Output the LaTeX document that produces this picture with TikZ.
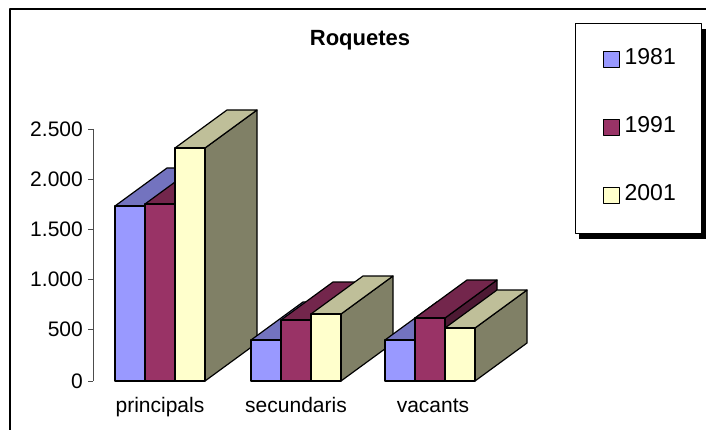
\documentclass[tikz,border=0pt]{standalone}
\usepackage{fontspec}
\setmainfont{Liberation Sans}
\usepackage{xcolor}
\usetikzlibrary{positioning}

\definecolor{c81}{HTML}{9999FF}
\definecolor{c81top}{HTML}{7373BF}
\definecolor{c81side}{HTML}{4D4D80}
\definecolor{c91}{HTML}{993366}
\definecolor{c91top}{HTML}{73264C}
\definecolor{c91side}{HTML}{4D1933}
\definecolor{c01}{HTML}{FFFFCC}
\definecolor{c01top}{HTML}{BFBF99}
\definecolor{c01side}{HTML}{808066}

% one 3d column: #1 left edge, #2 top edge, #3 colour
\newcommand{\colbar}[3]{%
	\filldraw[edge, fill=#3side] (#1+30,381) -- (#1+30,#2) -- ++(52,-38) -- (#1+82,343) -- cycle;
	\filldraw[edge, fill=#3top] (#1,#2) -- ++(52,-38) -- ++(30,0) -- (#1+30,#2) -- cycle;
	\filldraw[edge, fill=#3] (#1,381) rectangle (#1+30,#2);
}

\begin{document}
\begin{tikzpicture}[x=1pt, y=-1pt, line join=round,
	edge/.style={draw=black, line width=1.2pt},
	lbl/.style={inner sep=0pt, font=\fontsize{21}{25}\selectfont},
	swatch/.style={draw, line width=0.9pt, minimum size=16pt, inner sep=0pt}]
	\useasboundingbox (0,0) rectangle (706,430);
	\draw[line width=1.3pt] (10,430) -- (10,9) -- (706,9);
	\node[inner sep=0pt, anchor=base, font=\bfseries\fontsize{22}{26}\selectfont] (title) at (360,46) {Roquetes};
	% value axis
	\draw[black!70, line width=0.8pt] (93,129) -- (93,381);
	\draw[black!70, line width=0.8pt] (88,381) -- (93,381) (88,329) -- (93,329) (88,279) -- (93,279)
		(88,229) -- (93,229) (88,179) -- (93,179) (88,129) -- (93,129);
	\node[lbl, anchor=east] (v0) at (83,381) {0};
	\node[lbl, anchor=east] (v500) at (83,329) {500};
	\node[lbl, anchor=east] (v1000) at (83,279) {1.000};
	\node[lbl, anchor=east] (v1500) at (83,229) {1.500};
	\node[lbl, anchor=east] (v2000) at (83,179) {2.000};
	\node[lbl, anchor=east] (v2500) at (83,129) {2.500};
	% columns
	\colbar{115}{206}{c81}
	\colbar{145}{204}{c91}
	\colbar{175}{148}{c01}
	\colbar{251}{340}{c81}
	\colbar{281}{320}{c91}
	\colbar{311}{314}{c01}
	\colbar{385}{340}{c81}
	\colbar{415}{318}{c91}
	\colbar{445}{328}{c01}
	\node[lbl, anchor=base] (princ) at (160,412) {principals};
	\node[lbl, anchor=base] (secun) at (296,412) {secundaris};
	\node[lbl, anchor=base] (vacan) at (433,412) {vacants};
	% legend
	\fill (579,29) rectangle (705.5,239.5);
	\draw[fill=white, line width=0.9pt] (575.5,23) rectangle (701.5,233.5);
	\node[swatch, fill=c81] (s81) at (611,59) {};
	\node[swatch, fill=c91] (s91) at (611,127) {};
	\node[swatch, fill=c01] (s01) at (611,195) {};
	\node[lbl, font=\fontsize{23}{27}\selectfont, right=5pt of s81, yshift=2pt] (l81) {1981};
	\node[lbl, font=\fontsize{23}{27}\selectfont, right=5pt of s91, yshift=2pt] (l91) {1991};
	\node[lbl, font=\fontsize{23}{27}\selectfont, right=5pt of s01, yshift=2pt] (l01) {2001};
\end{tikzpicture}
\end{document}
